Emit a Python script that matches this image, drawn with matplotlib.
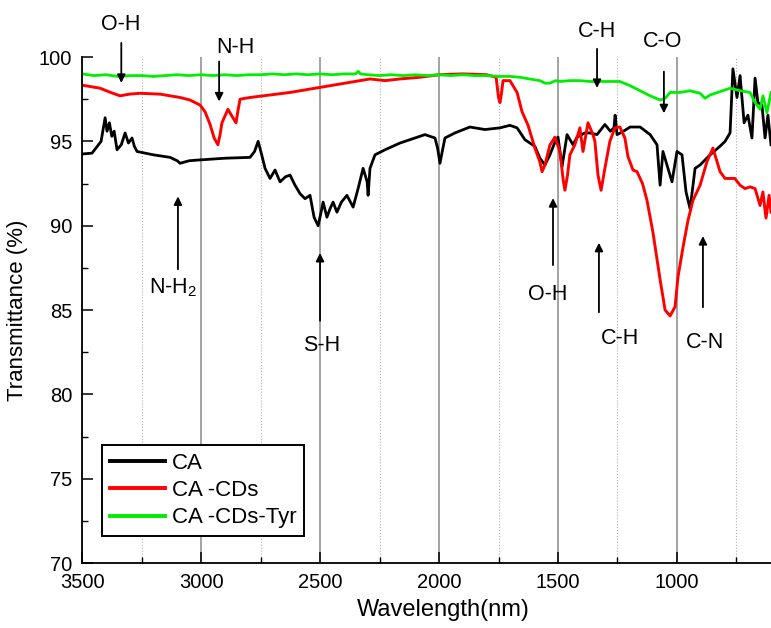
import matplotlib.pyplot as plt
from matplotlib.ticker import MultipleLocator

plt.rcParams['font.family'] = ['Liberation Sans', 'DejaVu Sans']
plt.rcParams['mathtext.default'] = 'regular'

# CA
ca_wn = [3500, 3458, 3420, 3403, 3395, 3385, 3375, 3365, 3353, 3335, 3319, 3305, 3290, 3280,
         3269, 3200, 3130, 3100, 3088, 3050, 3004, 2900, 2794, 2775, 2760, 2745, 2731, 2710,
         2689, 2668, 2645, 2626, 2605, 2584, 2563, 2542, 2525, 2508, 2497, 2487, 2471, 2458,
         2445, 2429, 2410, 2387, 2361, 2340, 2319, 2302, 2298, 2290, 2269, 2227, 2164, 2101,
         2059, 2038, 2017, 2006, 1996, 1985, 1975, 1933, 1870, 1807, 1744, 1702, 1672, 1639,
         1597, 1576, 1555, 1534, 1513, 1500, 1483, 1462, 1437, 1420, 1387, 1366, 1336, 1303,
         1280, 1265, 1260, 1252, 1231, 1197, 1155, 1113, 1084, 1071, 1059, 1038, 1021, 1000,
         979, 962, 945, 924, 903, 861, 820, 798, 777, 765, 748, 735, 718, 702, 685, 672, 660,
         643, 630, 618, 605]
ca_tr = [94.25, 94.3, 95.0, 96.4, 95.6, 96.1, 95.3, 95.6, 94.5, 94.8, 95.5, 94.9, 95.2, 94.7,
         94.4, 94.2, 94.05, 93.85, 93.7, 93.85, 93.9, 94.0, 94.05, 94.4, 95.0, 94.2, 93.4, 92.8,
         93.3, 92.6, 92.9, 93.0, 92.4, 91.9, 91.6, 91.8, 90.5, 90.0, 90.7, 91.4, 90.5, 91.0,
         91.4, 90.8, 91.4, 91.8, 91.1, 92.2, 93.4, 92.6, 91.8, 93.4, 94.2, 94.5, 94.9, 95.2,
         95.4, 95.3, 95.2, 94.6, 93.7, 94.5, 95.2, 95.5, 95.85, 95.7, 95.8, 95.95, 95.8, 95.1,
         94.7, 94.0, 93.6, 94.2, 94.95, 95.25, 93.5, 95.4, 94.8, 95.25, 95.5, 95.5, 95.4, 96.0,
         95.6, 95.8, 96.55, 95.4, 95.55, 95.85, 95.85, 95.4, 94.8, 92.4, 94.4, 93.4, 92.6, 94.4,
         94.2, 92.0, 91.0, 93.4, 93.6, 94.2, 94.7, 95.0, 95.5, 99.3, 97.6, 98.9, 96.1, 96.55,
         95.2, 98.75, 97.3, 97.15, 95.2, 96.55, 94.8]

# CA-CDs
cds_wn = [3500, 3424, 3380, 3340, 3300, 3256, 3172, 3088, 3046, 3004, 2983, 2962, 2945, 2929,
          2920, 2912, 2887, 2866, 2853, 2845, 2836, 2794, 2710, 2626, 2542, 2458, 2374, 2290,
          2227, 2164, 2080, 2000, 1900, 1800, 1760, 1750, 1744, 1738, 1731, 1702, 1672, 1651,
          1626, 1597, 1576, 1567, 1555, 1534, 1513, 1492, 1479, 1471, 1460, 1450, 1429, 1408,
          1395, 1374, 1353, 1345, 1332, 1319, 1303, 1282, 1261, 1240, 1219, 1206, 1185, 1168,
          1145, 1126, 1101, 1071, 1050, 1029, 1008, 996, 975, 954, 933, 903, 874, 849, 819,
          798, 757, 735, 714, 693, 672, 651, 639, 626, 613, 605]
cds_tr = [98.33, 98.15, 97.9, 97.7, 97.8, 97.85, 97.8, 97.6, 97.45, 97.15, 96.75, 96.0, 95.2, 94.8,
          95.4, 96.1, 96.9, 96.4, 96.1, 96.8, 97.5, 97.6, 97.75, 97.9, 98.1, 98.3, 98.5, 98.7,
          98.6, 98.7, 98.8, 98.95, 99.0, 98.95, 98.8, 97.6, 97.3, 97.8, 98.6, 98.6, 97.9, 96.75,
          95.96, 94.6, 93.77, 93.2, 93.6, 94.78, 95.25, 94.4, 92.8, 92.1, 93.0, 94.2, 94.8, 95.8,
          94.4, 96.1, 95.4, 95.0, 93.0, 92.1, 93.4, 95.0, 95.8, 95.85, 95.2, 94.1, 93.3, 93.2,
          92.5, 91.5, 89.6, 86.8, 85.0, 84.65, 85.2, 86.95, 88.7, 90.3, 91.5, 92.4, 93.8, 94.6, 93.2,
          92.8, 92.8, 92.4, 92.2, 92.3, 92.2, 91.2, 92.0, 90.45, 91.8, 90.8]

# CA-CDs-Tyr
tyr_wn = [3500, 3450, 3400, 3350, 3300, 3250, 3200, 3150, 3100, 3050, 3000, 2950, 2900, 2850,
          2800, 2750, 2700, 2650, 2600, 2550, 2500, 2450, 2400, 2350, 2340, 2330, 2300, 2250,
          2200, 2150, 2100, 2050, 2000, 1950, 1900, 1850, 1800, 1750, 1700, 1660, 1620, 1576,
          1555, 1534, 1510, 1492, 1450, 1408, 1366, 1300, 1240, 1197, 1155, 1113, 1071, 1050,
          1029, 987, 945, 903, 882, 861, 819, 777, 735, 693, 672, 651, 639, 622, 605]
tyr_tr = [99.0, 98.9, 98.95, 98.85, 98.9, 98.9, 98.85, 98.9, 98.95, 98.9, 98.95, 98.9, 98.95, 98.9,
          98.95, 98.95, 99.0, 98.95, 99.0, 98.95, 99.0, 98.95, 99.0, 99.0, 99.15, 99.0, 98.95, 98.9,
          98.95, 98.9, 98.95, 98.9, 98.95, 98.9, 98.95, 98.9, 98.9, 98.85, 98.85, 98.8, 98.7, 98.6,
          98.45, 98.45, 98.6, 98.55, 98.6, 98.6, 98.55, 98.55, 98.55, 98.3, 98.0, 97.7, 97.45, 97.55,
          97.9, 97.9, 98.0, 97.85, 97.55, 97.75, 97.95, 98.15, 98.0, 97.9, 97.3, 96.9, 97.7, 96.7, 97.9]

# peak labels: text, arrow x, arrow tail y, arrow head y, text x, text y
peaks = [
    ('O-H', 3335, 101.0, 98.3, 3336, 101.95),
    ('N-H', 2924, 99.9, 97.2, 2857, 100.55),
    ('N-H$_2$', 3097, 87.25, 91.9, 3118, 86.3),
    ('S-H', 2500, 84.2, 88.55, 2492, 82.9),
    ('O-H', 1521, 87.5, 91.8, 1542, 85.9),
    ('C-H', 1336, 100.65, 98.0, 1336, 101.5),
    ('C-O', 1055, 99.3, 96.5, 1059, 100.9),
    ('C-H', 1328, 84.7, 89.15, 1240, 83.3),
    ('C-N', 891, 85.0, 89.55, 882, 83.1),
]

fig = plt.figure(figsize=(7.71, 6.28), dpi=100)
ax = fig.add_axes([0.1064, 0.1035, 0.8936, 0.8057])

ax.plot(ca_wn, ca_tr, color='black', lw=2.0, label='CA')
ax.plot(cds_wn, cds_tr, color='#ff0000', lw=2.1, label='CA -CDs')
ax.plot(tyr_wn, tyr_tr, color='#00ee00', lw=2.0, label='CA -CDs-Tyr')

ax.set_xlim(3500, 605)
ax.set_ylim(70, 100)
ax.xaxis.set_major_locator(MultipleLocator(500))
ax.xaxis.set_minor_locator(MultipleLocator(250))
ax.yaxis.set_major_locator(MultipleLocator(5))
ax.yaxis.set_minor_locator(MultipleLocator(2.5))
ax.grid(True, which='major', axis='x', color='#8a8a8a', lw=1.1, ls='-')
ax.grid(True, which='minor', axis='x', color='#b0b0b0', lw=0.8, ls=':')
ax.set_axisbelow(True)
ax.spines['top'].set_visible(False)
ax.spines['right'].set_visible(False)
ax.spines['left'].set_linewidth(1.3)
ax.spines['bottom'].set_linewidth(1.3)
ax.tick_params(which='major', direction='in', length=8, width=1.1, labelsize=14.5, pad=7)
ax.tick_params(which='minor', direction='in', length=4, width=1.0)

ax.set_xlabel('Wavelength(nm)', fontsize=17)
ax.xaxis.set_label_coords(0.525, -0.072)
ax.set_ylabel('Transmittance (%)', fontsize=16, labelpad=8)

for label, x, y0, y1, tx, ty in peaks:
    ax.annotate('', xy=(x, y1), xytext=(x, y0), annotation_clip=False,
                arrowprops=dict(arrowstyle='-|>', color='black', lw=1.3, mutation_scale=12))
    ax.text(tx, ty, label, fontsize=15.5, ha='center', va='center', clip_on=False)

leg = ax.legend(loc='upper left', bbox_to_anchor=(0.029, 0.233), borderaxespad=0,
                fontsize=16, fancybox=False, edgecolor='black', framealpha=1,
                handlelength=2.5, handletextpad=0.3, borderpad=0.35, labelspacing=0.28)
leg.get_frame().set_linewidth(1.4)
for line in leg.get_lines():
    line.set_linewidth(2.8)

plt.savefig('out.png', dpi=100)
